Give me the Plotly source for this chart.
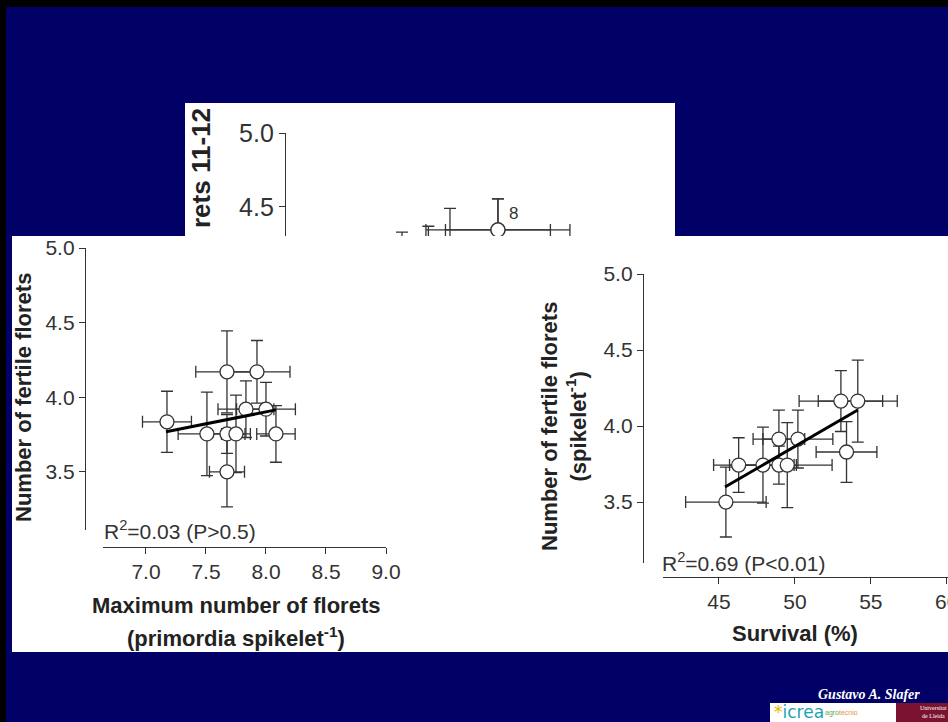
import plotly.graph_objects as go

# ---------------- data ----------------
# top (partly hidden) panel: max florets vs fertile florets 11-12
top_x = [8.27, 8.27, 7.877, 7.484, 7.70]
top_y = [4.345, 4.345, 4.22, 4.13, 4.14]
top_xerr = [0.59, 0.43, 0.25, 0.20, 0.20]
top_yerr = [0.21, 0.21, 0.27, 0.20, 0.23]
top_label = "8"
top_ytitle = "rets 11-12"
top_yticks = [4.5, 5.0]

# left panel
left_x = [7.175, 7.675, 7.925, 7.833, 8.0, 7.508, 7.675, 7.675, 7.75, 8.083]
left_y = [3.835, 4.17, 4.17, 3.92, 3.92, 3.754, 3.754, 3.50, 3.754, 3.754]
left_xerr = [0.204, 0.26, 0.275, 0.233, 0.245, 0.24, 0.15, 0.146, 0.12, 0.16]
left_yerr = [0.205, 0.275, 0.21, 0.19, 0.18, 0.28, 0.13, 0.235, 0.26, 0.19]
left_fit_x = [7.167, 8.083]
left_fit_y = [3.768, 3.915]
left_xticks = [7.0, 7.5, 8.0, 8.5, 9.0]
left_yticks = [3.5, 4.0, 4.5, 5.0]
left_r2 = "R<sup>2</sup>=0.03 (P>0.5)"
left_xtitle = ["Maximum number of florets", "(primordia spikelet<sup>-1</sup>)"]
left_ytitle = "Number of fertile florets"

# right panel
right_x = [45.46, 46.3, 47.9, 48.95, 49.5, 48.95, 50.2, 53.03, 54.14, 53.4]
right_y = [3.50, 3.743, 3.743, 3.743, 3.743, 3.914, 3.914, 4.164, 4.164, 3.829]
right_xerr = [2.65, 1.65, 2.2, 1.0, 2.95, 1.7, 2.3, 2.75, 2.6, 2.0]
right_yerr = [0.23, 0.18, 0.25, 0.125, 0.28, 0.19, 0.19, 0.20, 0.27, 0.20]
right_fit_x = [45.4, 54.14]
right_fit_y = [3.599, 4.105]
right_xticks = [45, 50, 55, 60]
right_yticks = [3.5, 4.0, 4.5, 5.0]
right_r2 = "R<sup>2</sup>=0.69 (P<0.01)"
right_xtitle = "Survival (%)"
right_ytitle = ["Number of fertile florets", "(spikelet<sup>-1</sup>)"]

author = "Gustavo A. Slafer"

# ---------------- layout helpers ----------------
W, H = 948, 722
def px(x):
    return x / W
def py(y):
    return 1 - y / H

NAVY = "rgb(0,0,102)"
FONT = "Liberation Sans, Arial, sans-serif"
INK = "#333333"

fig = go.Figure()

marker = dict(symbol="circle", size=14, color="white", line=dict(color=INK, width=1.3))

def err(vals):
    return dict(type="data", array=vals, visible=True, color=INK, thickness=1.3, width=6)

fig.add_trace(go.Scatter(x=top_x, y=top_y, mode="markers", marker=marker,
                         error_x=err(top_xerr), error_y=err(top_yerr),
                         xaxis="x", yaxis="y", showlegend=False))
fig.add_trace(go.Scatter(x=left_x, y=left_y, mode="markers", marker=marker,
                         error_x=err(left_xerr), error_y=err(left_yerr),
                         xaxis="x2", yaxis="y2", showlegend=False))
fig.add_trace(go.Scatter(x=left_fit_x, y=left_fit_y, mode="lines",
                         line=dict(color="black", width=3),
                         xaxis="x2", yaxis="y2", showlegend=False))
fig.add_trace(go.Scatter(x=right_x, y=right_y, mode="markers", marker=marker,
                         error_x=err(right_xerr), error_y=err(right_yerr),
                         xaxis="x3", yaxis="y3", showlegend=False))
fig.add_trace(go.Scatter(x=right_fit_x, y=right_fit_y, mode="lines",
                         line=dict(color="black", width=3),
                         xaxis="x3", yaxis="y3", showlegend=False))

def yax(dom, rng, pos, ticks, size):
    return dict(domain=dom, range=rng, anchor="free", position=pos, automargin=False,
                showline=True, linecolor=INK, linewidth=1.3,
                ticks="outside", ticklen=6, tickwidth=1.3, tickcolor=INK,
                tickvals=ticks, ticktext=["%.1f" % t for t in ticks],
                tickfont=dict(family=FONT, size=size, color=INK),
                ticklabeloverflow="allow",
                showgrid=False, zeroline=False, fixedrange=True)

def xax(dom, rng, pos, ticks, fmt, size):
    return dict(domain=dom, range=rng, anchor="free", position=pos, automargin=False,
                showline=True, linecolor=INK, linewidth=1.3,
                ticks="outside", ticklen=6, tickwidth=1.3, tickcolor=INK,
                tickvals=ticks, ticktext=[fmt % t for t in ticks],
                tickfont=dict(family=FONT, size=size, color=INK),
                ticklabeloverflow="allow",
                showgrid=False, zeroline=False, fixedrange=True)

layout = dict(
    template="none",
    width=W, height=H, margin=dict(l=0, r=0, t=0, b=0, pad=0, autoexpand=False),
    showlegend=False,
    paper_bgcolor=NAVY, plot_bgcolor="rgba(0,0,0,0)",
    xaxis=dict(domain=[px(285), px(675)], range=[6.525, 9.721], visible=False,
               automargin=False, fixedrange=True),
    yaxis=yax([py(236), py(133)], [4.304, 5.0], px(285), top_yticks, 25),
    xaxis2=xax([px(103), px(386)], [6.642, 9.0], py(547), left_xticks, "%.1f", 21),
    yaxis2=yax([py(530), py(248)], [3.11, 5.0], px(85), left_yticks, 21),
    xaxis3=xax([px(663), px(948)], [41.32, 60.08], py(577), right_xticks, "%d", 21),
    yaxis3=yax([py(563), py(274)], [3.099, 5.0], px(643), right_yticks, 21),
)
fig.update_layout(**layout)

shapes = [
    dict(type="rect", xref="paper", yref="paper", x0=px(185), x1=px(675), y0=py(236), y1=py(103),
         fillcolor="white", line=dict(width=0), layer="below"),
    dict(type="rect", xref="paper", yref="paper", x0=px(12), x1=px(948), y0=py(652), y1=py(236),
         fillcolor="white", line=dict(width=0), layer="below"),
    dict(type="rect", xref="paper", yref="paper", x0=0, x1=1, y0=py(7), y1=1,
         fillcolor="black", line=dict(width=0), layer="below"),
    dict(type="rect", xref="paper", yref="paper", x0=0, x1=px(6), y0=0, y1=1,
         fillcolor="black", line=dict(width=0), layer="below"),
    # logo strip
    dict(type="rect", xref="paper", yref="paper", x0=px(770), x1=px(948), y0=0, y1=py(703),
         fillcolor="white", line=dict(width=0), layer="below"),
    dict(type="rect", xref="paper", yref="paper", x0=px(896), x1=px(948), y0=0, y1=py(703),
         fillcolor="#7b1230", line=dict(width=0), layer="below"),
]
fig.update_layout(shapes=shapes)

TFONT = dict(family=FONT, size=22, color="#222222")
ann = []
# top panel
ann.append(dict(text="<b>%s</b>" % top_ytitle, xref="paper", yref="paper", x=px(201), y=py(106),
                xanchor="center", yanchor="top", textangle=-90, showarrow=False,
                font=dict(family=FONT, size=26, color="#222222")))
ann.append(dict(text=top_label, xref="x", yref="y", x=top_x[0], y=top_y[0], xshift=9, yshift=16,
                xanchor="left", yanchor="middle", showarrow=False,
                font=dict(family=FONT, size=17, color=INK)))
# left panel
ann.append(dict(text="<b>%s</b>" % left_ytitle, xref="paper", yref="paper", x=px(24), y=py(398),
                xanchor="center", yanchor="middle", textangle=-90, showarrow=False, font=TFONT))
ann.append(dict(text="<b>%s</b>" % left_xtitle[0], xref="paper", yref="paper", x=px(236), y=py(605),
                xanchor="center", yanchor="middle", showarrow=False, font=TFONT))
ann.append(dict(text="<b>%s</b>" % left_xtitle[1], xref="paper", yref="paper", x=px(236), y=py(637),
                xanchor="center", yanchor="middle", showarrow=False, font=TFONT))
ann.append(dict(text=left_r2, xref="paper", yref="paper", x=px(102), y=py(530),
                xanchor="left", yanchor="middle", showarrow=False,
                font=dict(family=FONT, size=21, color=INK)))
# right panel
ann.append(dict(text="<b>%s</b><br><b>%s</b>" % tuple(right_ytitle), xref="paper", yref="paper",
                x=px(564), y=py(427), xanchor="center", yanchor="middle", textangle=-90,
                showarrow=False, font=TFONT))
ann.append(dict(text="<b>%s</b>" % right_xtitle, xref="paper", yref="paper", x=px(795), y=py(633),
                xanchor="center", yanchor="middle", showarrow=False, font=TFONT))
ann.append(dict(text=right_r2, xref="paper", yref="paper", x=px(660), y=py(562),
                xanchor="left", yanchor="middle", showarrow=False,
                font=dict(family=FONT, size=21, color=INK)))
# footer
ann.append(dict(text="<b><i>%s</i></b>" % author, xref="paper", yref="paper", x=px(869), y=py(694),
                xanchor="center", yanchor="middle", showarrow=False,
                font=dict(family="Liberation Serif, Times New Roman, serif", size=14, color="white")))
ann.append(dict(text="<span style='color:#e8b400'>*</span><span style='color:#1aa3b5'>icrea</span>",
                xref="paper", yref="paper", x=px(772), y=py(712), xanchor="left", yanchor="middle",
                showarrow=False, font=dict(family="DejaVu Sans", size=17)))
ann.append(dict(text="<span style='color:#6aa84f'>agro</span><span style='color:#e69138'>tecnio</span>",
                xref="paper", yref="paper", x=px(823), y=py(713), xanchor="left", yanchor="middle",
                showarrow=False, font=dict(family=FONT, size=7)))
ann.append(dict(text="Universitat<br>de Lleida", xref="paper", yref="paper", x=px(918), y=py(712),
                xanchor="left", yanchor="middle", showarrow=False,
                font=dict(family="Liberation Serif", size=6, color="white")))
fig.update_layout(annotations=ann)

fig.write_html("out.html")
